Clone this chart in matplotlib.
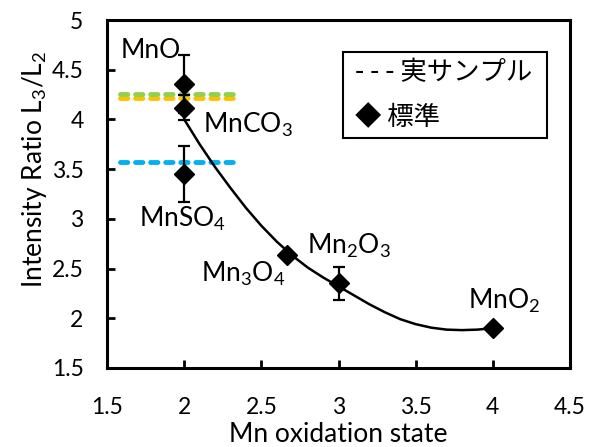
import numpy as np
import matplotlib
matplotlib.use('Agg')
import matplotlib.pyplot as plt
from matplotlib.patches import Rectangle

plt.rcParams['font.family'] = ['Lato', 'Noto Sans CJK JP', 'DejaVu Sans']

# standards (oxidation state, L3/L2 ratio, error)
names = ['MnO', 'MnCO$\\mathregular{_3}$', 'MnSO$\\mathregular{_4}$',
         'Mn$\\mathregular{_3}$O$\\mathregular{_4}$', 'Mn$\\mathregular{_2}$O$\\mathregular{_3}$',
         'MnO$\\mathregular{_2}$']
ox_state = [2.0, 2.0, 2.0, 2.667, 3.0, 4.0]
ratio = [4.36, 4.12, 3.45, 2.64, 2.35, 1.90]
ratio_err = [0.29, 0.13, 0.28, 0.02, 0.17, 0.0]

# label anchor points
label_x = [1.78, 2.41, 1.99, 2.38, 3.07, 4.07]
label_y = [4.69, 3.95, 3.00, 2.45, 2.73, 2.17]

# samples (dashed horizontal lines)
sample_y = [4.22, 4.26, 3.575]
sample_colors = ['#FFC000', '#92D050', '#00B0F0']
sample_x = [1.584, 2.36]

# guide curve
curve_x = [2.0, 2.1, 2.2, 2.3, 2.4, 2.5, 2.6, 2.7, 2.8, 2.9, 3.0,
           3.1, 3.2, 3.3, 3.4, 3.5, 3.6, 3.7, 3.8, 3.9, 4.0]
curve_y = [4.00, 3.75, 3.52, 3.31, 3.11, 2.93, 2.77, 2.63, 2.51, 2.41, 2.32,
           2.23, 2.14, 2.06, 1.99, 1.94, 1.905, 1.885, 1.88, 1.885, 1.90]

fig = plt.figure(figsize=(5.95, 4.47), dpi=100)
ax = fig.add_axes([0.180, 0.177, 0.778, 0.778])

for y, c in zip(sample_y, sample_colors):
    ax.plot(sample_x, [y, y], color=c, lw=3.5, linestyle=(0, (1.5, 1.6)),
            dash_capstyle='round', zorder=2)

ax.plot(curve_x, curve_y, color='black', lw=1.8, zorder=3)

ax.errorbar(ox_state, ratio, yerr=ratio_err, fmt='D', color='black',
            markersize=10.5, ecolor='black', elinewidth=1.6, capsize=4,
            capthick=1.6, zorder=4)

for n, x, y in zip(names, label_x, label_y):
    ax.text(x, y, n, fontsize=19, ha='center', va='center')

# legend box
ax.add_patch(Rectangle((0.51, 0.661), 0.44, 0.247, transform=ax.transAxes,
                       fill=False, edgecolor='black', lw=1.5, zorder=5))
ax.text(0.535, 0.85, '- - - 実サンプル', transform=ax.transAxes, fontsize=19,
        va='center', family=['Noto Sans CJK JP', 'DejaVu Sans'])
ax.text(0.535, 0.72, '◆ 標準', transform=ax.transAxes, fontsize=19,
        va='center', family=['Noto Sans CJK JP', 'DejaVu Sans'])

ax.set_xlim(1.5, 4.5)
ax.set_ylim(1.5, 5.0)
ax.set_xticks(np.arange(1.5, 4.51, 0.5))
ax.set_yticks(np.arange(1.5, 5.01, 0.5))
ax.set_xticklabels(['1.5', '2', '2.5', '3', '3.5', '4', '4.5'])
ax.set_yticklabels(['1.5', '2', '2.5', '3', '3.5', '4', '4.5', '5'])
ax.tick_params(direction='in', length=6, width=2, labelsize=16.5)
ax.tick_params(axis='x', pad=21)
ax.tick_params(axis='y', pad=17)
for s in ax.spines.values():
    s.set_linewidth(2.2)

ax.set_xlabel('Mn oxidation state', fontsize=19)
ax.set_ylabel('Intensity Ratio L$\\mathregular{_3}$/L$\\mathregular{_2}$', fontsize=19)
ax.xaxis.set_label_coords(0.50, -0.155)
ax.yaxis.set_label_coords(-0.125, 0.57)

fig.savefig('out.png', dpi=100)
